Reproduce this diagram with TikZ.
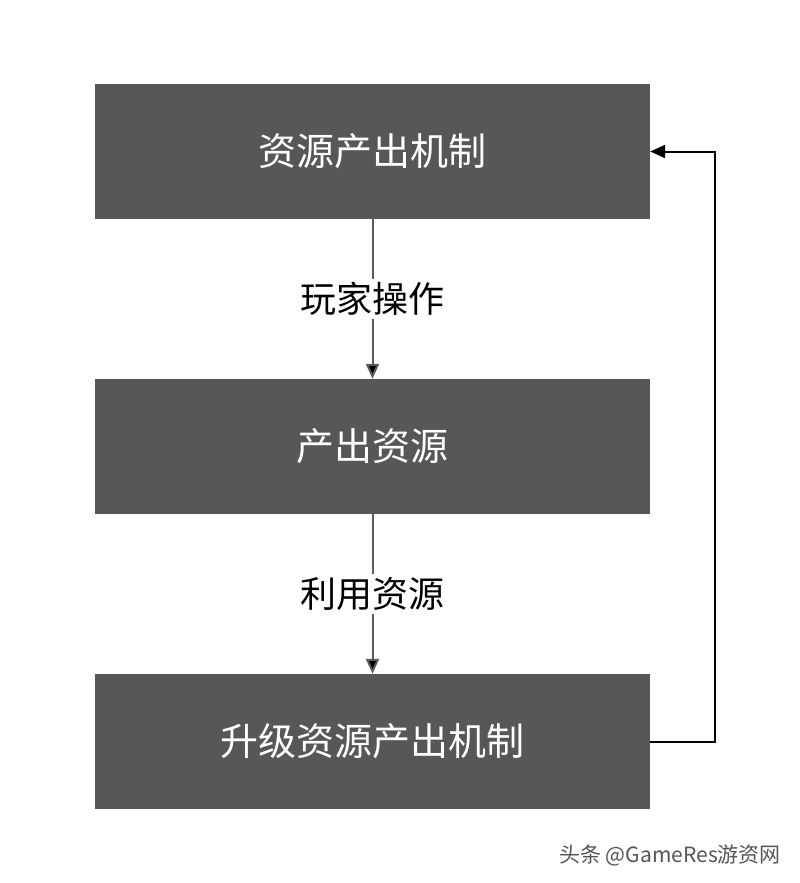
\documentclass[tikz,border=0pt]{standalone}
\usepackage{fontspec}
\newfontfamily\cjk{Noto Sans CJK SC}
\usetikzlibrary{arrows.meta}
\definecolor{boxgray}{HTML}{575757}
\definecolor{linegray}{HTML}{5A5A5A}
\definecolor{wmgray}{HTML}{555555}
\begin{document}
\begin{tikzpicture}[x=1pt,y=-1pt,
  boxnode/.style={fill=boxgray, draw=none, minimum width=555pt, minimum height=135pt, inner sep=0pt, text=white, font=\cjk\fontsize{38}{41}\selectfont},
  labelnode/.style={fill=white, inner sep=3pt, text=black, font=\cjk\fontsize{36}{39}\selectfont},
  conn/.style={draw=linegray, line width=2pt, -{Triangle[length=15pt,width=13pt,fill=black]}},
  feedback/.style={draw=black, line width=2pt, -{Triangle[length=15pt,width=13pt,fill=black]}}]
\useasboundingbox (0,0) rectangle (800,883);
\fill[white] (0,0) rectangle (800,883);
\node[boxnode] (b1) at (372.5,151.5) {资源产出机制};
\node[boxnode] (b2) at (372.5,446.5) {产出资源};
\node[boxnode] (b3) at (372.5,741.5) {升级资源产出机制};
\draw[conn] (b1.south) -- node[labelnode] {玩家操作} (b2.north);
\draw[conn] (b2.south) -- node[labelnode] {利用资源} (b3.north);
\coordinate (c1) at (715,741.5);
\coordinate (c2) at (715,151.5);
\draw[feedback] (b3.east) -- (c1) -- (c2) -- (b1.east);
\node[text=wmgray, font=\cjk\fontsize{21}{24}\selectfont, anchor=east, inner sep=0pt] (wm) at (781,855) {头条 @GameRes游资网};
\end{tikzpicture}
\end{document}
